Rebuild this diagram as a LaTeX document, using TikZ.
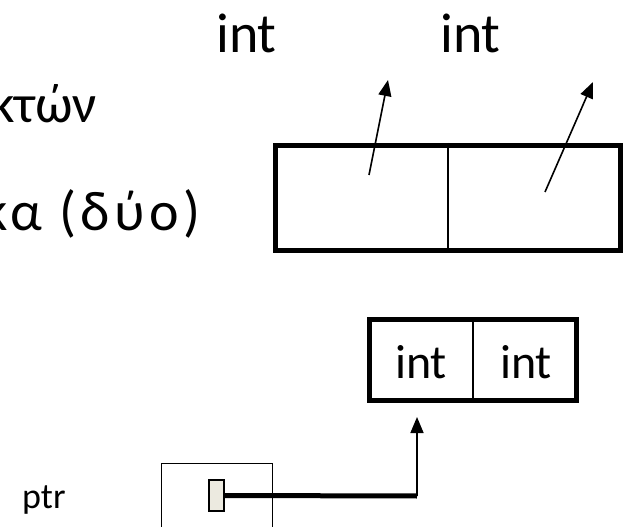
\documentclass[tikz,border=0pt]{standalone}
\usepackage{fontspec}
\setmainfont{Carlito}
\usetikzlibrary{positioning, arrows.meta}
\definecolor{slotfill}{HTML}{ECEAE0}

\begin{document}
\begin{tikzpicture}[
    x=1pt, y=-1pt,
    bigtext/.style={
        inner sep=0pt,
        font=\fontsize{56}{60}\selectfont
    },
    smalltext/.style={
        inner sep=0pt,
        font=\fontsize{48}{52}\selectfont
    },
    ptrtext/.style={
        inner sep=0pt,
        font=\fontsize{36}{40}\selectfont
    },
    wordbox/.style={
        rectangle,
        draw,
        line width=5pt,
        inner sep=0pt
    },
    ptrbox/.style={
        rectangle,
        draw,
        line width=1.4pt,
        minimum width=111pt,
        minimum height=120pt,
        inner sep=0pt
    },
    slot/.style={
        rectangle,
        draw,
        fill=slotfill,
        line width=1.8pt,
        minimum width=15pt,
        minimum height=31pt,
        inner sep=0pt
    },
    divider/.style={line width=1.5pt},
    pointer/.style={
        line width=1.6pt,
        -{Triangle[length=16pt, width=13pt]}
    },
    link/.style={line width=5pt}
]
\useasboundingbox (0,0) rectangle (625,527);

% Text on the left (cut at the edge)
\node[bigtext, font=\fontsize{54}{58}\selectfont, anchor=base west] (wordone) at (-10,123) {κτών};
\node[bigtext, anchor=base west] (wordtwo) at (-18,230) {\addfontfeatures{LetterSpace=8}κα (δύο)};

% Two int labels at the top
\node[bigtext, anchor=base] (topleft) at (246.5,53) {int};
\node[bigtext, anchor=base] (topright) at (470.5,53) {int};

% Large box of two cells
\node[wordbox, minimum width=345pt, minimum height=105pt] (bigbox) at (448,198) {};
\draw[divider] (bigbox.north) -- (bigbox.south);

\coordinate (leftfoot) at (369,175);
\coordinate (lefthead) at (388,80);
\coordinate (rightfoot) at (545,192);
\coordinate (righthead) at (593,82);
\draw[pointer] (leftfoot) -- (lefthead);
\draw[pointer] (rightfoot) -- (righthead);

% Small box with int | int
\node[wordbox, minimum width=207pt, minimum height=81pt] (pairbox) at (473,360) {};
\draw[divider] (pairbox.north) -- (pairbox.south);
\node[smalltext, anchor=base] (pairleft) at (421,378) {int};
\node[smalltext, anchor=base] (pairright) at (526,378) {int};

% Pointer variable
\node[ptrtext, anchor=base west] (ptrlabel) at (22,508) {ptr};
\node[ptrbox, anchor=north west] (ptrcell) at (161,463) {};
\node[slot] (ptrslot) at (216.5,495.5) {};

\coordinate (bend) at (417,496);
\coordinate (tip) at (417,417);
\draw[link] (ptrslot.east) -- (bend);
\draw[pointer] (bend) -- (tip);

\end{tikzpicture}
\end{document}
